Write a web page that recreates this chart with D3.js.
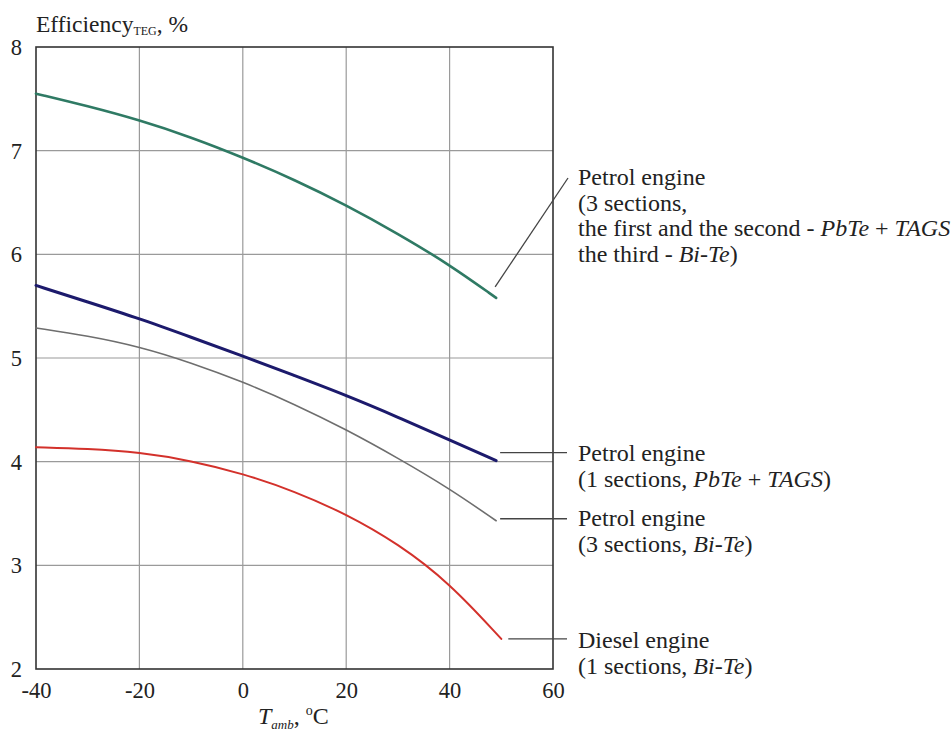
<!DOCTYPE html>
<html><head><meta charset="utf-8">
<script src="https://cdn.jsdelivr.net/npm/d3@7/dist/d3.min.js"></script>
<style>
html,body{margin:0;padding:0;background:#fff;}
svg{display:block;font-family:"Liberation Serif","Times New Roman",serif;}
</style></head>
<body>
<svg id="c" width="951" height="731"></svg>
<script>
// ---- data ----
const xTicks = [-40, -20, 0, 20, 40, 60];
const yTicks = [2, 3, 4, 5, 6, 7, 8];
const tempsPetrol = [-40, -30, -20, -10, 0, 10, 20, 30, 40, 49];
const tempsDiesel = [-40, -30, -20, -10, 0, 10, 20, 30, 40, 50];
const petrol3MixedEff = [7.55, 7.43, 7.295, 7.13, 6.935, 6.72, 6.475, 6.20, 5.90, 5.58];
const petrol1PbTeEff  = [5.70, 5.54, 5.38, 5.20, 5.02, 4.83, 4.64, 4.43, 4.21, 4.01];
const petrol3BiTeEff  = [5.29, 5.215, 5.11, 4.955, 4.77, 4.555, 4.31, 4.035, 3.74, 3.43];
const diesel1BiTeEff  = [4.14, 4.125, 4.09, 4.01, 3.885, 3.715, 3.495, 3.21, 2.83, 2.29];

const series = [
  {x: tempsPetrol, y: petrol3MixedEff, color: "#2f7a64", w: 2.6},
  {x: tempsPetrol, y: petrol1PbTeEff,  color: "#1c1a6c", w: 3},
  {x: tempsPetrol, y: petrol3BiTeEff,  color: "#6e6e6e", w: 1.6},
  {x: tempsDiesel, y: diesel1BiTeEff,  color: "#d3312b", w: 2}
];

// annotation texts: arrays of lines; each line an array of [text, italic]
const labels = [
  [[["Petrol engine",0]],
   [["(3 sections,",0]],
   [["the first and the second - ",0],["PbTe",1],[" + ",0],["TAGS",1]],
   [["the third - ",0],["Bi-Te",1],[")",0]]],
  [[["Petrol engine",0]],
   [["(1 sections, ",0],["PbTe",1],[" + ",0],["TAGS",1],[")",0]]],
  [[["Petrol engine",0]],
   [["(3 sections, ",0],["Bi-Te",1],[")",0]]],
  [[["Diesel engine",0]],
   [["(1 sections, ",0],["Bi-Te",1],[")",0]]]
];

// ---- layout ----
const L = 36, R = 553, T = 47, B = 669;
const svg = d3.select("#c");
const x = d3.scaleLinear().domain([-40, 60]).range([L, R]);
const y = d3.scaleLinear().domain([2, 8]).range([B, T]);

// grid
const g = svg.append("g");
g.selectAll(".vg").data(xTicks.slice(1, -1)).enter().append("line")
  .attr("x1", d => x(d)).attr("x2", d => x(d)).attr("y1", T).attr("y2", B)
  .attr("stroke", "#9a9a9a").attr("stroke-width", 1.2);
g.selectAll(".hg").data(yTicks.slice(1, -1)).enter().append("line")
  .attr("y1", d => y(d)).attr("y2", d => y(d)).attr("x1", L).attr("x2", R)
  .attr("stroke", "#9a9a9a").attr("stroke-width", 1.2);

// axes via d3 axis, styled
const fmt = d => String(d);
const xAxis = d3.axisBottom(x).tickValues(xTicks).tickSize(0).tickPadding(0).tickFormat(fmt);
const xa = svg.append("g").attr("transform", `translate(0,${B})`).call(xAxis);
xa.select(".domain").remove();
xa.selectAll("text").attr("font-size", 22.5).attr("fill", "#222")
  .attr("font-family", "Liberation Serif").attr("dy", null).attr("y", 29);

const yAxis = d3.axisLeft(y).tickValues(yTicks).tickSize(0).tickPadding(0).tickFormat(fmt);
const ya = svg.append("g").attr("transform", `translate(${L},0)`).call(yAxis);
ya.select(".domain").remove();
ya.selectAll("text").attr("font-size", 22.5).attr("fill", "#222")
  .attr("font-family", "Liberation Serif").attr("x", -14).attr("dy", "0.34em");

// frame
svg.append("rect").attr("x", L).attr("y", T).attr("width", R - L).attr("height", B - T)
  .attr("fill", "none").attr("stroke", "#333").attr("stroke-width", 1.6);

// curves
const line = d3.line().curve(d3.curveBasis);
series.forEach(s => {
  svg.append("path")
    .attr("d", line(s.x.map((v, i) => [x(v), y(s.y[i])])))
    .attr("fill", "none").attr("stroke", s.color).attr("stroke-width", s.w)
    .attr("stroke-linecap", "round");
});

// leader lines
const lead = svg.append("g").attr("stroke", "#444").attr("stroke-width", 1.3);
const e0 = series[0], n0 = e0.x.length - 1;
lead.append("line").attr("x1", x(e0.x[n0]) - 1).attr("y1", y(e0.y[n0]) - 11)
  .attr("x2", 568).attr("y2", 178);
[1, 2, 3].forEach(k => {
  const s = series[k], n = s.x.length - 1;
  const ly = y(s.y[n]) - (k === 1 ? 8 : (k === 2 ? 2 : 0));
  lead.append("line").attr("x1", x(s.x[n]) + 4 + (k === 3 ? 3 : 0)).attr("x2", 567)
    .attr("y1", ly).attr("y2", ly);
});

// annotation texts
const labelBase = [185, 461, 526, 648];
const lineGap = 25.5;
labels.forEach((lab, i) => {
  const t = svg.append("text").attr("font-size", 24).attr("fill", "#222");
  lab.forEach((ln, j) => {
    ln.forEach((part, k) => {
      const ts = t.append("tspan").text(part[0]).attr("font-style", part[1] ? "italic" : "normal");
      if (k === 0) ts.attr("x", 578).attr("y", labelBase[i] + j * lineGap);
    });
  });
});

// y title
const yt = svg.append("text").attr("x", 36).attr("y", 32).attr("font-size", 23.5).attr("fill", "#222");
yt.append("tspan").text("Efficiency");
yt.append("tspan").text("TEG").attr("font-size", 12).attr("dy", 3);
yt.append("tspan").text(", %").attr("dy", -3);

// x title
const xt = svg.append("text").attr("x", 258).attr("y", 724).attr("font-size", 24).attr("fill", "#222");
xt.append("tspan").text("T").attr("font-style", "italic");
xt.append("tspan").text("amb").attr("font-style", "italic").attr("font-size", 13).attr("dy", 5);
xt.append("tspan").text(", ").attr("dy", -5);
xt.append("tspan").text("o").attr("font-size", 14).attr("dy", -9);
xt.append("tspan").text("C").attr("dy", 9);
</script>
</body></html>
